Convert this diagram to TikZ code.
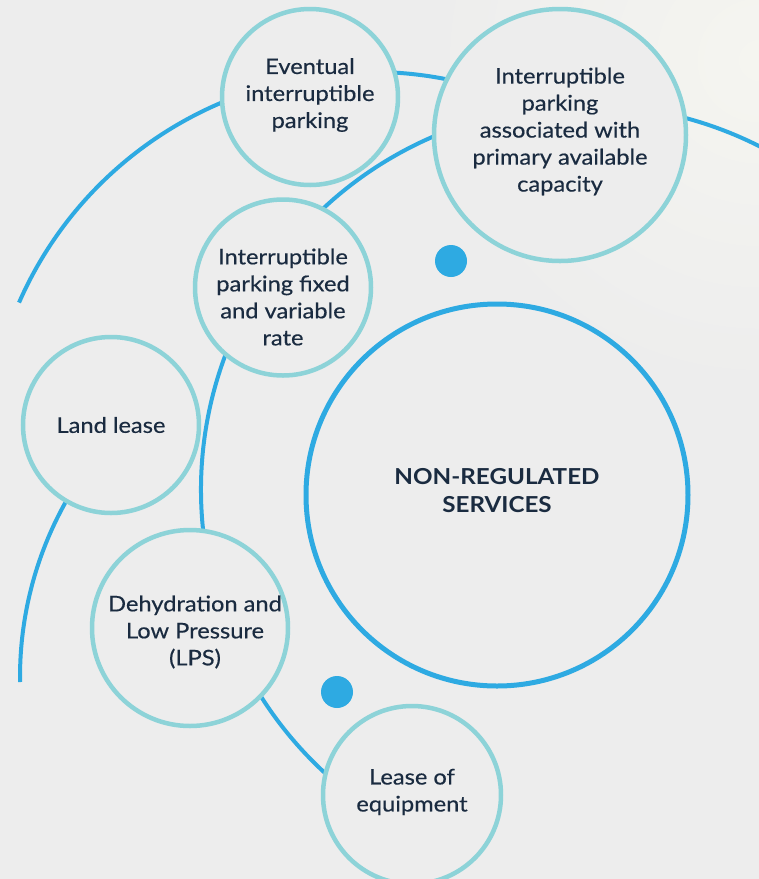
\documentclass[tikz,border=0pt]{standalone}
\usepackage{fontspec}
\setmainfont{Lato}[FakeStretch=1.1]
\newfontfamily\bodyfont{Lato}[FakeStretch=1.1, FakeBold=0.4]
\definecolor{bgc}{HTML}{EDEDED}
\definecolor{lightc}{HTML}{F5F5F0}
\definecolor{bluec}{HTML}{2EAAE2}
\definecolor{ringc}{HTML}{8DD3D8}
\definecolor{txtc}{HTML}{1A2B40}
\tikzset{
  ring/.style={circle, draw=ringc, line width=4.5pt, fill=bgc, inner sep=0pt},
  txt/.style={align=center, text=txtc, font=\bodyfont\fontsize{21.5}{27}\selectfont, inner sep=0pt},
  arcline/.style={draw=bluec, line width=4pt},
  bluedot/.style={circle, fill=bluec, minimum size=32pt, inner sep=0pt}
}
\begin{document}
\begin{tikzpicture}[x=1pt,y=1pt]
\useasboundingbox (0,0) rectangle (759,-879);
\clip (0,0) rectangle (759,-879);
\fill[bgc] (0,0) rectangle (759,-879);
\shade[inner color=lightc, outer color=bgc] (759,-60) circle (330);
% arcs
\coordinate (ci) at (586,-490);
\coordinate (co) at (372,-457.5);
\coordinate (cl) at (378,-677);
\draw[arcline] (ci) ++(60:385) arc[start angle=60, end angle=235, radius=385];
\draw[arcline] (co) ++(72:385.5) arc[start angle=72, end angle=156.3, radius=385.5];
\draw[arcline] (cl) ++(145:358) arc[start angle=145, end angle=180.8, radius=358];
% circles
\node[ring, minimum size=176pt] (c1) at (310,-97) {};
\node[ring, minimum size=252pt] (c2) at (560,-135) {};
\node[ring, minimum size=176pt] (c3) at (283,-287.5) {};
\node[ring, minimum size=176pt] (c4) at (111,-425) {};
\node[ring, minimum size=196pt] (c5) at (190,-628) {};
\node[ring, minimum size=178pt] (c6) at (412,-795) {};
\node[circle, draw=bluec, line width=5pt, minimum size=382pt, inner sep=0pt] (main) at (497,-495) {};
\node[bluedot] (d1) at (451,-261) {};
\node[bluedot] (d2) at (337,-692) {};
% texts
\node[txt] (t1) at (310,-95) {Eventual\\interruptible\\parking};
\node[txt] (t2) at (560,-131.5) {Interruptible\\parking\\associated with\\primary available\\capacity};
\node[txt] (t3) at (283,-297) {Interruptible\\parking fixed\\and variable\\rate};
\node[txt] (t4) at (111,-425) {Land lease};
\node[txt] (t5) at (195,-632) {Dehydration and\\Low Pressure\\(LPS)};
\node[txt] (t6) at (412,-792) {Lease of\\equipment};
\node[txt, font=\fontsize{22}{28}\selectfont\bfseries] (t7) at (497,-491) {NON-REGULATED\\SERVICES};
\end{tikzpicture}
\end{document}
